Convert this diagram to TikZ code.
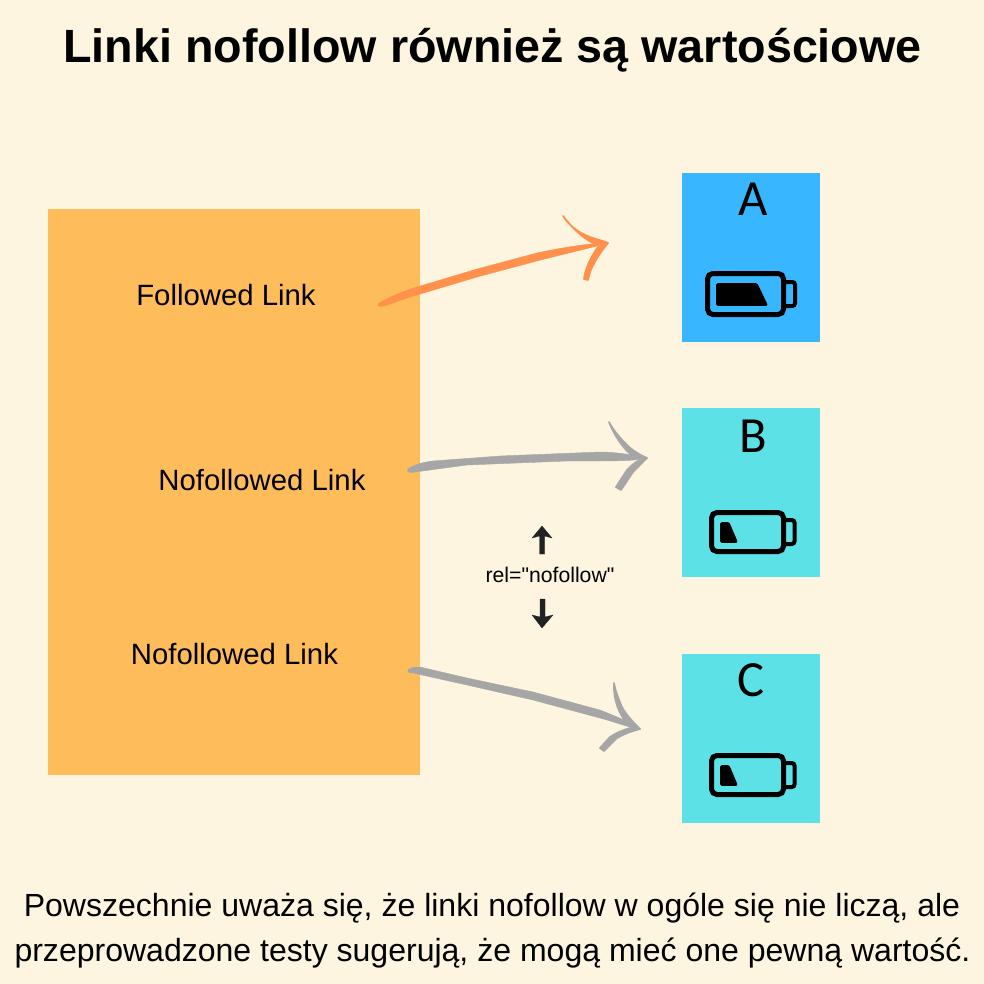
\documentclass[tikz,border=0pt]{standalone}
\usepackage{fontspec}
\setmainfont{Liberation Sans}
\newfontfamily\relfont{Liberation Sans}
\newfontfamily\letterfont{Carlito}
\definecolor{bgcol}{HTML}{FDF5DF}
\definecolor{bigcol}{HTML}{FFBC5A}
\definecolor{bluecol}{HTML}{38B6FF}
\definecolor{cyancol}{HTML}{5CE1E6}
\definecolor{orangearrow}{HTML}{FF914D}
\definecolor{greyarrow}{HTML}{A6A6A6}
\definecolor{darkarrow}{HTML}{222222}
\tikzset{
  box/.style={draw=none,inner sep=0pt,outer sep=0pt,anchor=north west},
  txt/.style={inner sep=0pt,outer sep=0pt,anchor=base,text=black},
  linklabel/.style={txt,font=\fontsize{22}{26}\selectfont},
  bodyline/.style={txt,font=\fontsize{24.02}{29}\selectfont},
  letterlabel/.style={inner sep=0pt,outer sep=0pt,anchor=base,font=\letterfont\fontsize{38}{46}\selectfont},
  brush/.style={line width=0.3pt,line join=round},
  barbstroke/.style={line width=1.3pt,line join=round},
  smallarrow/.style={draw=darkarrow,fill=darkarrow,line width=0.2pt},
  battery/.style={draw=black,line width=3.75pt,rounded corners=4pt},
  batterycap/.style={draw=black,line width=3pt,rounded corners=2pt},
  batteryfill/.style={fill=black,draw=black,line width=0.6pt,line join=round}
}
\begin{document}
\begin{tikzpicture}[x=0.75pt,y=-0.75pt]
\useasboundingbox (0,0) rectangle (984,984);
\fill[bgcol] (0,0) rectangle (984,984);

% title
\node[txt,font=\bfseries\fontsize{35}{42}\selectfont] (title) at (492.5,63) {Linki nofollow również są wartościowe};

% boxes
\node[box,fill=bigcol,minimum width=279pt,minimum height=424.5pt] (big) at (48,209) {};
\node[box,fill=bluecol,minimum width=103.5pt,minimum height=126.75pt] (boxA) at (682,173) {};
\node[box,fill=cyancol,minimum width=103.5pt,minimum height=126.75pt] (boxB) at (682,408) {};
\node[box,fill=cyancol,minimum width=103.5pt,minimum height=126.75pt] (boxC) at (682,654) {};

% letters
\node[letterlabel] (letA) at (753,216) {A};
\node[letterlabel] (letB) at (753,452) {B};
\node[letterlabel] (letC) at (751,696) {C};

% link labels
\node[linklabel] (follow) at (226,305) {Followed Link};
\node[linklabel] (nofollowB) at (262,490) {Nofollowed Link};
\node[linklabel] (nofollowC) at (234.5,664) {Nofollowed Link};
\node[txt,font=\relfont\fontsize{15.9}{19}\selectfont] (rel) at (550,582) {rel="nofollow"};

% batteries
\draw[battery] (707.5,273.5) rectangle (783.5,314.5);
\draw[batterycap] (786,282) -- (795,282) -- (795,306) -- (786,306);
\fill[batteryfill,rounded corners=1pt] (716.5,283.5) -- (757,283.5) -- (767.5,305.5) -- (716.5,305.5) -- cycle;

\draw[battery] (711.5,512.5) rectangle (783.5,551.5);
\draw[batterycap] (786,520) -- (794.5,520) -- (794.5,544) -- (786,544);
\fill[batteryfill,rounded corners=1pt] (720.5,522.5) -- (729,522.5) -- (737.5,542.5) -- (720.5,542.5) -- cycle;

\draw[battery] (711.5,755.5) rectangle (783.5,794.5);
\draw[batterycap] (786,763) -- (794.5,763) -- (794.5,787) -- (786,787);
\fill[batteryfill,rounded corners=1pt] (720.5,765.5) -- (729,765.5) -- (737.5,785.5) -- (720.5,785.5) -- cycle;

% arrows
\coordinate (s1) at (378,304);
\coordinate (t1) at (608,243);
\coordinate (s2) at (408,469);
\coordinate (t2) at (647,458);
\coordinate (s3) at (408,670);
\coordinate (t3) at (640,729);

\filldraw[brush,draw=orangearrow,fill=orangearrow]
  (s1) .. controls (390,296) and (405,291) .. (417,287) -- (477,269) -- (537,253)
  .. controls (560,248) and (590,243) .. (t1)
  .. controls (590,248) and (560,255) .. (537,261) -- (477,277) -- (417,295)
  .. controls (405,298) and (392,304) .. (383,306) .. controls (380,307) and (377,306) .. (s1) -- cycle;
\filldraw[barbstroke,draw=orangearrow,fill=orangearrow] (563,216) .. controls (568,224) and (578,233) .. (590,237) .. controls (598,240) and (604,241) .. (t1) -- (593,243) .. controls (583,238) and (572,228) .. cycle;
\filldraw[barbstroke,draw=orangearrow,fill=orangearrow] (t1) .. controls (602,250) and (595,260) .. (590,272) -- (588,280) -- (584,279) .. controls (585,270) and (590,258) .. (598,247) -- cycle;

\filldraw[brush,draw=greyarrow,fill=greyarrow]
  (s2) .. controls (415,464) and (425,462) .. (433,461) -- (500,456) -- (600,452)
  .. controls (615,452) and (635,455) .. (t2)
  .. controls (640,460) and (625,461) .. (600,461) -- (567,461) -- (467,465)
  -- (415,472) .. controls (410,473) and (406,472) .. (s2) -- cycle;
\filldraw[barbstroke,draw=greyarrow,fill=greyarrow] (609,422) .. controls (613,430) and (620,438) .. (627,445) .. controls (633,451) and (640,455) .. (t2) -- (633,456) .. controls (624,450) and (614,435) .. cycle;
\filldraw[barbstroke,draw=greyarrow,fill=greyarrow] (t2) .. controls (643,462) and (638,467) .. (633,472) -- (621,490) -- (616,487) -- (627,470) .. controls (631,466) and (634,463) .. (638,461) -- cycle;

\filldraw[brush,draw=greyarrow,fill=greyarrow]
  (s3) .. controls (410,667) and (416,667) .. (420,667) -- (467,678) -- (533,692) -- (600,710)
  .. controls (615,716) and (630,722) .. (t3)
  .. controls (630,728) and (615,722) .. (600,718) -- (533,700) -- (467,685)
  -- (413,673) .. controls (410,673) and (407,672) .. (s3) -- cycle;
\filldraw[barbstroke,draw=greyarrow,fill=greyarrow] (614,683) .. controls (615,690) and (619,700) .. (622,707) .. controls (626,715) and (634,723) .. (t3) -- (631,727) .. controls (620,718) and (613,700) .. cycle;
\filldraw[barbstroke,draw=greyarrow,fill=greyarrow] (t3) .. controls (632,731) and (624,734) .. (617,738) -- (604,751) -- (600,748) -- (610,737) .. controls (616,733) and (623,730) .. (630,728) -- cycle;

% small arrows
\coordinate (upTip) at (542,526);
\coordinate (downTip) at (542,628);
\fill[smallarrow] (upTip) -- (552,538) -- (544.5,536) -- (544.5,554) -- (539.5,554) -- (539.5,536) -- (532,538) -- cycle;
\fill[smallarrow] (downTip) -- (553,615) -- (545,617) -- (545,599) -- (540,599) -- (540,617) -- (532,615) -- cycle;

% body
\node[bodyline] (line1) at (492,916) {Powszechnie uważa się, że linki nofollow w ogóle się nie liczą, ale};
\node[bodyline] (line2) at (492.5,961) {przeprowadzone testy sugerują, że mogą mieć one pewną wartość.};
\end{tikzpicture}
\end{document}
